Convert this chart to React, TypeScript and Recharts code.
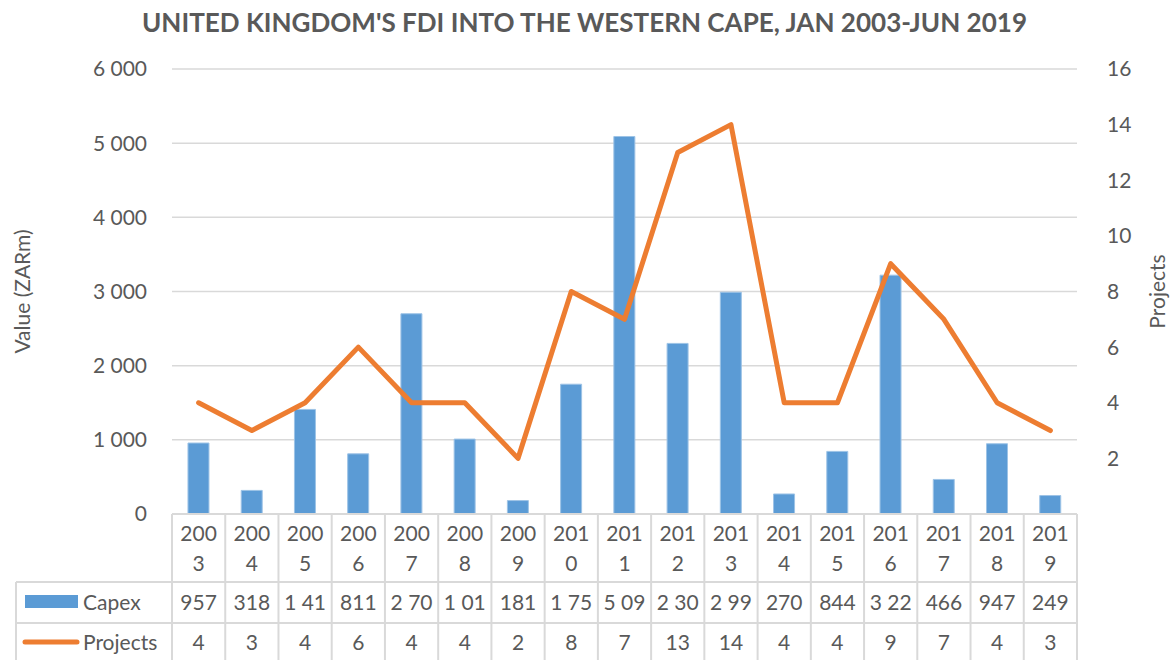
import {
  ComposedChart,
  Bar,
  Line,
  XAxis,
  YAxis,
  CartesianGrid,
  Legend,
} from "recharts";

const years = [
  "2003", "2004", "2005", "2006", "2007", "2008", "2009", "2010", "2011",
  "2012", "2013", "2014", "2015", "2016", "2017", "2018", "2019",
];
const capex = [957, 318, 1410, 811, 2700, 1010, 181, 1750, 5090, 2300, 2990, 270, 844, 3220, 466, 947, 249];
// labels as shown (truncated) in the data table
const capexLabels = [
  "957", "318", "1 41", "811", "2 70", "1 01", "181", "1 75", "5 09",
  "2 30", "2 99", "270", "844", "3 22", "466", "947", "249",
];
const projects = [4, 3, 4, 6, 4, 4, 2, 8, 7, 13, 14, 4, 4, 9, 7, 4, 3];
const valueTicks = [0, 1000, 2000, 3000, 4000, 5000, 6000];
const projectTicks = [0, 2, 4, 6, 8, 10, 12, 14, 16];

const data = years.map((year, i) => ({
  year,
  capex: capex[i],
  projects: projects[i],
}));

const W = 1174;
const H = 660;
const PLOT_LEFT = 172;
const PLOT_RIGHT = 1077;
const TABLE_TOP = 514;
const ROW1 = 582;
const ROW2 = 623;
const COL_W = (PLOT_RIGHT - PLOT_LEFT) / years.length;
const TEXT = "#595959";
const BORDER = "#d9d9d9";
const FONT = "Lato";
const BLUE = "#5B9BD5";
const ORANGE = "#ED7D31";

const fmt = (v: number) => String(v).replace(/\B(?=(\d{3})+(?!\d))/g, " ");

const TableTick = (props: any) => {
  const { x, payload, index } = props;
  const left = x - COL_W / 2;
  const yr = String(payload.value);
  const t = { fill: TEXT, fontSize: 21, fontFamily: FONT, textAnchor: "middle" as const };
  return (
    <g>
      <line x1={left} x2={left} y1={TABLE_TOP} y2={H} stroke={BORDER} strokeWidth={2} />
      {index === years.length - 1 && (
        <line x1={left + COL_W} x2={left + COL_W} y1={TABLE_TOP} y2={H} stroke={BORDER} strokeWidth={2} />
      )}
      <line x1={left} x2={left + COL_W} y1={ROW1} y2={ROW1} stroke={BORDER} strokeWidth={2} />
      <line x1={left} x2={left + COL_W} y1={ROW2} y2={ROW2} stroke={BORDER} strokeWidth={2} />
      <text x={x} y={541} {...t}>{yr.slice(0, 3)}</text>
      <text x={x} y={571} {...t}>{yr.slice(3)}</text>
      <text x={x} y={610} {...t}>{capexLabels[index]}</text>
      <text x={x} y={650} {...t}>{projects[index]}</text>
    </g>
  );
};

const TableLegend = (props: any) => {
  const items = props.payload || [];
  return (
    <svg width={W} height={H} style={{ position: "absolute", left: 0, top: 0 }}>
      <line x1={16} x2={PLOT_LEFT} y1={ROW1} y2={ROW1} stroke={BORDER} strokeWidth={2} />
      <line x1={16} x2={PLOT_LEFT} y1={ROW2} y2={ROW2} stroke={BORDER} strokeWidth={2} />
      <line x1={16} x2={16} y1={ROW1} y2={H} stroke={BORDER} strokeWidth={2} />
      {items.map((item: any, i: number) => {
        const cy = i === 0 ? 602 : 642;
        return (
          <g key={item.value}>
            {item.type === "line" ? (
              <line x1={25} x2={77} y1={cy} y2={cy} stroke={ORANGE} strokeWidth={5} strokeLinecap="round" />
            ) : (
              <rect x={25} y={cy - 7} width={53} height={13} fill={BLUE} />
            )}
            <text x={83} y={cy + 8} fill={TEXT} fontSize={21} fontFamily={FONT}>
              {item.value}
            </text>
          </g>
        );
      })}
    </svg>
  );
};

export default function App() {
  return (
    <div style={{ position: "absolute", left: 0, top: 0, width: W, height: H, background: "#fff" }}>
      <svg width={W} height={40} style={{ position: "absolute", left: 0, top: 0 }}>
        <text
          x={584.5}
          y={31.5}
          textAnchor="middle"
          fill={TEXT}
          fontSize={27}
          fontWeight={700}
          fontFamily={FONT}
          textLength={885}
          lengthAdjust="spacingAndGlyphs"
        >
          UNITED KINGDOM'S FDI INTO THE WESTERN CAPE, JAN 2003-JUN 2019
        </text>
      </svg>
      <ComposedChart
        width={W}
        height={H}
        data={data}
        margin={{ top: 69, right: 0, bottom: 0, left: 0 }}
        barCategoryGap="30%"
      >
        <CartesianGrid yAxisId="left" vertical={false} stroke={BORDER} strokeWidth={1.5} />
        <XAxis
          dataKey="year"
          height={H - TABLE_TOP}
          interval={0}
          tickLine={false}
          tickSize={0}
          tickMargin={0}
          axisLine={{ stroke: BORDER, strokeWidth: 2 }}
          tick={<TableTick />}
        />
        <YAxis
          yAxisId="left"
          width={PLOT_LEFT}
          domain={[0, 6000]}
          ticks={valueTicks}
          tickFormatter={fmt}
          axisLine={false}
          tickLine={false}
          tickSize={0}
          tickMargin={25}
          tick={{ fill: TEXT, fontSize: 21, fontFamily: FONT }}
          label={({ viewBox }: any) => (
            <text
              x={viewBox.x + 30}
              y={viewBox.y + viewBox.height / 2}
              transform={`rotate(-90 ${viewBox.x + 30} ${viewBox.y + viewBox.height / 2})`}
              textAnchor="middle"
              fill={TEXT}
              fontSize={21}
              fontFamily={FONT}
            >
              Value (ZARm)
            </text>
          )}
        />
        <YAxis
          yAxisId="right"
          orientation="right"
          width={W - PLOT_RIGHT}
          domain={[0, 16]}
          ticks={projectTicks}
          tickFormatter={(v: number) => (v === 0 ? "" : String(v))}
          axisLine={false}
          tickLine={false}
          tickSize={0}
          tickMargin={30}
          tick={{ fill: TEXT, fontSize: 21, fontFamily: FONT }}
          label={({ viewBox }: any) => (
            <text
              x={viewBox.x + 88}
              y={viewBox.y + viewBox.height / 2}
              transform={`rotate(-90 ${viewBox.x + 88} ${viewBox.y + viewBox.height / 2})`}
              textAnchor="middle"
              fill={TEXT}
              fontSize={21}
              fontFamily={FONT}
            >
              Projects
            </text>
          )}
        />
        <Legend
          layout="horizontal"
          verticalAlign="middle"
          content={<TableLegend />}
          wrapperStyle={{ position: "absolute", left: 0, top: 0, width: W, height: H, pointerEvents: "none" }}
        />
        <Bar
          yAxisId="left"
          dataKey="capex"
          name="Capex"
          fill={BLUE}
          stroke="#9DC3E6"
          strokeWidth={1}
          isAnimationActive={false}
        />
        <Line
          yAxisId="right"
          type="linear"
          dataKey="projects"
          name="Projects"
          stroke={ORANGE}
          strokeWidth={5}
          strokeLinejoin="round"
          strokeLinecap="round"
          dot={false}
          activeDot={false}
          isAnimationActive={false}
        />
      </ComposedChart>
    </div>
  );
}
